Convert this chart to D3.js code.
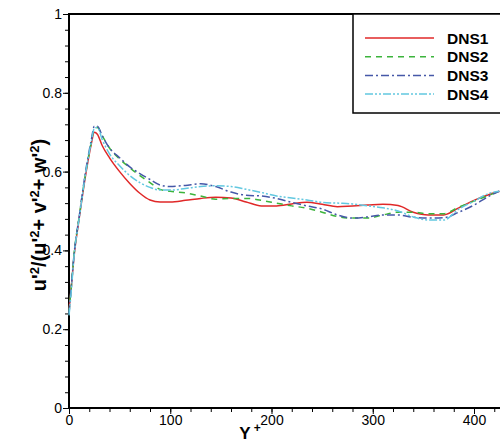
<!DOCTYPE html>
<html>
<head>
<meta charset="utf-8">
<style type="text/css">
    body { margin: 0; background: #fff; }
    svg { display: block; font-family: "Liberation Sans", Arial, sans-serif; }
    .axis path, .axis line { stroke: #000; }
    .axis text { font-size: 14px; fill: #000; }
</style>
</head>
<body>
<svg id="graph" width="500" height="443"></svg>
<script src="https://d3js.org/d3.v7.min.js"></script>
<script type="text/javascript">
// Y+ positions where the curves were read
var yplus = [0, 2, 5, 10, 17, 22, 25, 28, 33, 40, 50, 60, 70, 80, 90, 100, 115, 130, 145, 160,
    175, 190, 205, 220, 235, 250, 265, 280, 295, 310, 325, 340, 355, 370, 385, 400, 415, 425];

var dns1 = [0.25, 0.30, 0.385, 0.48, 0.60, 0.67, 0.70, 0.695, 0.665, 0.635, 0.60, 0.57, 0.545, 0.528, 0.523, 0.523,
    0.527, 0.532, 0.535, 0.533, 0.523, 0.513, 0.513, 0.518, 0.522, 0.517, 0.511, 0.513, 0.515, 0.517, 0.514, 0.497,
    0.49, 0.49, 0.508, 0.527, 0.542, 0.55];
var dns2 = [0.245, 0.30, 0.39, 0.485, 0.605, 0.675, 0.71, 0.712, 0.69, 0.66, 0.632, 0.61, 0.59, 0.572, 0.555, 0.55,
    0.546, 0.538, 0.53, 0.532, 0.532, 0.527, 0.52, 0.513, 0.507, 0.497, 0.486, 0.482, 0.482, 0.49, 0.497, 0.497,
    0.493, 0.493, 0.51, 0.525, 0.54, 0.55];
var dns3 = [0.24, 0.30, 0.39, 0.485, 0.61, 0.68, 0.715, 0.715, 0.69, 0.66, 0.635, 0.612, 0.595, 0.58, 0.566, 0.562,
    0.565, 0.569, 0.562, 0.548, 0.54, 0.538, 0.532, 0.522, 0.513, 0.505, 0.49, 0.482, 0.485, 0.49, 0.49, 0.484,
    0.482, 0.483, 0.497, 0.515, 0.538, 0.55];
var dns4 = [0.235, 0.29, 0.385, 0.48, 0.605, 0.675, 0.71, 0.712, 0.68, 0.645, 0.615, 0.59, 0.572, 0.56, 0.553, 0.553,
    0.557, 0.562, 0.564, 0.562, 0.555, 0.547, 0.538, 0.533, 0.528, 0.522, 0.52, 0.518, 0.513, 0.508, 0.5, 0.485,
    0.477, 0.477, 0.505, 0.525, 0.545, 0.55];

var names = ["DNS1", "DNS2", "DNS3", "DNS4"];
var colors = ["#e02828", "#3cb43c", "#4658a8", "#62c8e0"];
var dashes = [null, "6,5", "8,3,2,3", "8,2,2,2,2,2"];

var xMajor = [0, 100, 200, 300, 400];
var yMajor = [0, 0.2, 0.4, 0.6, 0.8, 1];

var svg = d3.select("#graph");

var x = d3.scaleLinear().domain([0, 400]).range([69, 474]);
var y = d3.scaleLinear().domain([0, 1]).range([408, 14]);

// minor ticks
svg.append("g").attr("class", "axis")
    .attr("transform", "translate(0,408)")
    .call(d3.axisBottom(x).tickValues(d3.range(0, 430, 20)).tickSize(4).tickFormat(""))
    .call(function(g) { g.select(".domain").remove(); });
svg.append("g").attr("class", "axis")
    .attr("transform", "translate(69,0)")
    .call(d3.axisLeft(y).tickValues(d3.range(0, 1.001, 0.04)).tickSize(4).tickFormat(""))
    .call(function(g) { g.select(".domain").remove(); });

// major ticks
svg.append("g").attr("class", "axis")
    .attr("transform", "translate(0,408)")
    .call(d3.axisBottom(x).tickValues(xMajor).tickSize(6).tickSizeOuter(0).tickFormat(d3.format("~g")))
    .call(function(g) {
        g.select(".domain").remove();
        g.selectAll("text").attr("dy", "0.6em");
    });
svg.append("g").attr("class", "axis")
    .attr("transform", "translate(69,0)")
    .call(d3.axisLeft(y).tickValues(yMajor).tickSize(6).tickSizeOuter(0).tickFormat(d3.format("~g")))
    .call(function(g) {
        g.select(".domain").remove();
        g.selectAll("text").attr("x", -7);
    });

// frame lines
svg.append("line").attr("x1", 69).attr("x2", 500).attr("y1", 408).attr("y2", 408)
    .attr("stroke", "#000").attr("stroke-width", 2);
svg.append("line").attr("x1", 69).attr("x2", 69).attr("y1", 13).attr("y2", 409)
    .attr("stroke", "#000").attr("stroke-width", 2);
svg.append("line").attr("x1", 68).attr("x2", 500).attr("y1", 14).attr("y2", 14)
    .attr("stroke", "#000").attr("stroke-width", 2);

// curves
var series = [dns1, dns2, dns3, dns4];
var line = d3.line()
    .x(function(d, i) { return x(yplus[i]); })
    .y(function(d) { return y(d); })
    .curve(d3.curveMonotoneX);

svg.append("g").selectAll("path")
    .data(series)
    .enter()
    .append("path")
    .attr("d", line)
    .attr("fill", "none")
    .attr("stroke", function(d, i) { return colors[i]; })
    .attr("stroke-width", 1.5)
    .attr("stroke-dasharray", function(d, i) { return dashes[i]; });

// legend
var leg = svg.append("g");
leg.append("rect").attr("x", 353).attr("y", 14).attr("width", 160).attr("height", 99)
    .attr("fill", "#fff").attr("stroke", "#000").attr("stroke-width", 1.5);
var rows = leg.selectAll("g.row").data(names).enter().append("g")
    .attr("transform", function(d, i) { return "translate(0," + (38 + i * 18.7) + ")"; });
rows.append("line").attr("x1", 365).attr("x2", 434).attr("y1", 0).attr("y2", 0)
    .attr("stroke", function(d, i) { return colors[i]; })
    .attr("stroke-width", 1.5)
    .attr("stroke-dasharray", function(d, i) { return dashes[i]; });
rows.append("text").attr("x", 447).attr("y", 5.5)
    .attr("font-size", "15.5px").attr("font-weight", "bold")
    .text(function(d) { return d; });

// axis titles
var yl = svg.append("text")
    .attr("transform", "translate(46,215) rotate(-90)")
    .attr("text-anchor", "middle")
    .attr("font-size", "20px").attr("font-weight", "bold");
var parts = [["u'", false], ["2", true], ["/(u'", false], ["2", true], ["+ v'", false], ["2", true],
    ["+ w'", false], ["2", true], [")", false]];
parts.forEach(function(p) {
    yl.append("tspan")
        .attr("baseline-shift", p[1] ? "super" : null)
        .attr("font-size", p[1] ? "13px" : null)
        .text(p[0]);
});

var xl = svg.append("text")
    .attr("x", 250).attr("y", 439)
    .attr("text-anchor", "middle")
    .attr("font-size", "17px").attr("font-weight", "bold");
xl.append("tspan").text("Y");
xl.append("tspan").attr("baseline-shift", "super").attr("font-size", "12px").attr("dx", 3).text("+");
</script>
</body>
</html>
